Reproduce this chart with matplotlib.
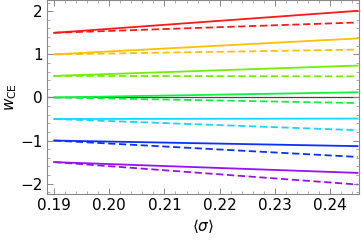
import matplotlib
matplotlib.use('Agg')
import matplotlib.pyplot as plt
from matplotlib.ticker import MultipleLocator

sigma = [0.19, 0.245]
start = [1.5, 1.0, 0.5, 0.0, -0.5, -1.0, -1.5]
solid_end = [2.01, 1.37, 0.74, 0.12, -0.49, -1.13, -1.75]
dashed_end = [1.74, 1.11, 0.49, -0.13, -0.76, -1.38, -2.02]
colors = ['#ff1a1a', '#ffc000', '#70f000', '#10f040', '#10d8ff', '#0a30ff', '#9a10f0']

plt.rcParams['font.family'] = 'DejaVu Sans'
fig, ax = plt.subplots(figsize=(3.61, 2.41), dpi=100)
fig.subplots_adjust(left=0.13, right=0.995, top=0.998, bottom=0.195)

ax.axhline(0, color='#444444', lw=0.9, zorder=1)
for w0, ws, wd, c in zip(start, solid_end, dashed_end, colors):
    ax.plot(sigma, [w0, ws], color=c, lw=1.3, zorder=2)
    ax.plot(sigma, [w0, wd], color=c, lw=1.3, ls=(0, (4, 2)), zorder=2)

ax.set_xlim(0.1887, 0.2453)
ax.set_ylim(-2.24, 2.25)
ax.xaxis.set_major_locator(MultipleLocator(0.01))
ax.xaxis.set_minor_locator(MultipleLocator(0.002))
ax.yaxis.set_major_locator(MultipleLocator(1))
ax.yaxis.set_minor_locator(MultipleLocator(0.2))
ax.xaxis.set_major_formatter(plt.FuncFormatter(lambda v, p: f'{v:.2f}'))
ax.yaxis.set_major_formatter(plt.FuncFormatter(lambda v, p: f'{int(round(v))}'.replace('-', '\u2212')))
ax.tick_params(which='both', direction='in', top=True, right=True, labelsize=11, color='#888888')
ax.tick_params(which='major', length=4, width=0.7, pad=3)
ax.tick_params(which='minor', length=2, width=0.5)
for s in ax.spines.values():
    s.set_color('#888888')
    s.set_linewidth(0.8)

ax.set_xlabel(r'$\langle\sigma\rangle$', fontsize=11, labelpad=3)
ax.set_ylabel(r'$w_{\mathrm{CE}}$', fontsize=11)
ax.yaxis.set_label_coords(-0.09, 0.5)

fig.savefig('out.png', dpi=100)
